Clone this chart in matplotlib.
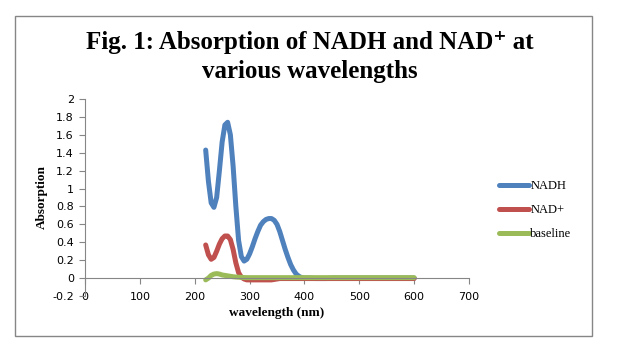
import numpy as np
import matplotlib
matplotlib.use("Agg")
import matplotlib.pyplot as plt
from matplotlib.patches import Rectangle

# wavelengths (nm): 5 nm steps up to 395, then 10 nm steps
wavelength = list(range(220, 400, 5)) + list(range(400, 601, 10))

nadh = [1.43, 1.08, 0.84, 0.79, 0.90, 1.20, 1.52, 1.71, 1.74, 1.60,
        1.25, 0.80, 0.42, 0.24, 0.19, 0.21, 0.27, 0.35, 0.44, 0.52,
        0.59, 0.63, 0.655, 0.665, 0.665, 0.645, 0.60, 0.52, 0.42, 0.32,
        0.23, 0.15, 0.09, 0.045, 0.02, 0.005,
        0.0, 0.0, -0.005, -0.005, -0.005, 0.0, 0.0, 0.0, 0.0, 0.0,
        0.0, 0.0, 0.0, 0.0, 0.0, 0.0, 0.0, 0.0, 0.0, 0.0, 0.0]

nad_plus = [0.37, 0.26, 0.21, 0.23, 0.30, 0.38, 0.44, 0.47, 0.47, 0.43,
            0.32, 0.17, 0.06, 0.01, -0.01, -0.02, -0.02, -0.02, -0.02, -0.02,
            -0.02, -0.02, -0.02, -0.02, -0.02, -0.015, -0.01, -0.005, -0.005, -0.005,
            -0.005, -0.005, -0.005, -0.005, -0.005, -0.005,
            -0.005, -0.005, -0.005, -0.005, -0.005, -0.005, -0.005, -0.005, -0.005, -0.005,
            -0.005, -0.005, -0.005, -0.005, -0.005, -0.005, -0.005, -0.005, -0.005, -0.005, -0.005]

baseline = [-0.02, 0.0, 0.03, 0.045, 0.05, 0.045, 0.035, 0.03, 0.025, 0.02,
            0.015, 0.012, 0.01, 0.008, 0.006, 0.005, 0.005, 0.005, 0.005, 0.005,
            0.005, 0.005, 0.005, 0.005, 0.005, 0.005, 0.005, 0.005, 0.005, 0.005,
            0.005, 0.005, 0.005, 0.005, 0.005, 0.005,
            0.005, 0.005, 0.005, 0.005, 0.005, 0.005, 0.005, 0.005, 0.005, 0.005,
            0.005, 0.005, 0.005, 0.005, 0.005, 0.005, 0.005, 0.005, 0.005, 0.005, 0.005]

x_ticks = np.arange(0, 701, 100)
y_ticks = np.round(np.arange(-0.2, 2.01, 0.2), 1)

serif = ['Liberation Serif', 'DejaVu Serif']
gray = '#868686'

fig = plt.figure(figsize=(6.19, 3.58), dpi=100)
ax = fig.add_axes([85/619, 1-296/358, (469-85)/619, (296-99)/358])

ax.plot(wavelength, nadh, color='#4F81BD', lw=3.6, label='NADH', solid_capstyle='round')
ax.plot(wavelength, nad_plus, color='#C0504D', lw=3.6, label='NAD+', solid_capstyle='round')
ax.plot(wavelength, baseline, color='#9BBB59', lw=3.6, label='baseline', solid_capstyle='round')

ax.set_xlim(0, 700)
ax.set_ylim(-0.2, 2)
ax.set_xticks(x_ticks)
ax.set_yticks(y_ticks)
ax.set_yticklabels(['-0.2', '0', '0.2', '0.4', '0.6', '0.8', '1', '1.2', '1.4', '1.6', '1.8', '2'])

for s in ['top', 'right']:
    ax.spines[s].set_visible(False)
ax.spines['bottom'].set_position(('data', 0))
for s in ['left', 'bottom']:
    ax.spines[s].set_color(gray)
    ax.spines[s].set_linewidth(0.8)
ax.tick_params(axis='both', colors=gray, length=4, width=0.8, labelsize=8,
               labelcolor='black')
ax.tick_params(axis='y', pad=4)
ax.tick_params(axis='x', pad=6)

ax.set_xlabel('wavelength (nm)', family=serif, fontweight='bold', fontsize=9.5)
ax.xaxis.set_label_coords(0.5, -0.058)
ax.set_ylabel('Absorption', family=serif, fontweight='bold', fontsize=9.5)
ax.yaxis.set_label_coords(-0.096, 0.5)

fig.text(0.5, 1-57/358, 'Fig. 1: Absorption of NADH and NAD\u207a at\nvarious wavelengths',
         ha='center', va='center', family=serif, fontweight='bold', fontsize=18,
         linespacing=1.3)

fig.legend(loc='center left', bbox_to_anchor=(499/619, 1-210/358), frameon=False,
           prop={'family': serif, 'size': 9}, handlelength=2.4, handletextpad=0.1,
           labelspacing=0.95, borderpad=0, borderaxespad=0)

fig.patches.append(Rectangle((15/619, 1-336/358), (592-15)/619, 320/358,
                             transform=fig.transFigure, fill=False,
                             edgecolor=gray, lw=1.0))

fig.savefig('out.png', dpi=100)
